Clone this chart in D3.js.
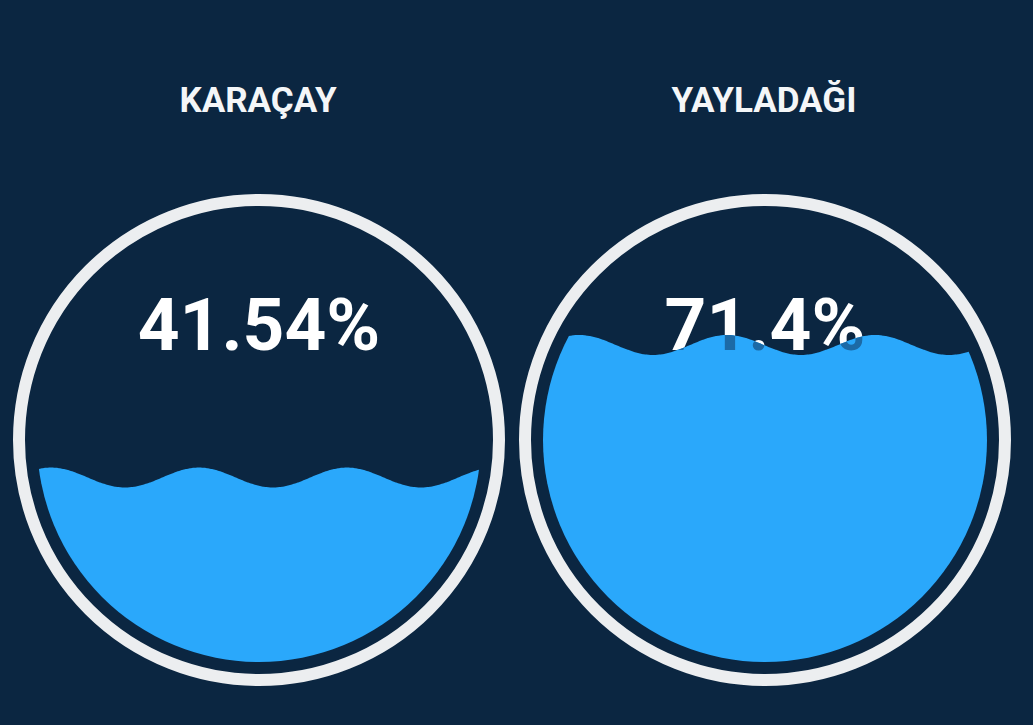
<!DOCTYPE html>
<html lang="tr">
<head>
<meta charset="utf-8">
<title>Doluluk</title>
<script src="https://cdn.jsdelivr.net/npm/d3@7"></script>
<style>
  html, body { margin: 0; padding: 0; background: #0b2641; }
  svg { display: block; }
</style>
</head>
<body>
<script>

// values
var names = ["KARAÇAY", "YAYLADAĞI"];
var values = [41.54, 71.4];
var labels = ["41.54%", "71.4%"];
var wavePeaks = [88, 110]; // where a crest sits, relative to gauge centre (frozen animation frame)

var width = 1033,
    height = 725;

var outerR = 246,
    ringW = 12,
    gap = 12,
    fillR = outerR - ringW - gap,
    cy = 440,
    waveAmp = 10,
    waveCount = 3;

var svg = d3.select("body").append("svg")
    .attr("width", width)
    .attr("height", height);

svg.append("rect")
    .attr("width", width)
    .attr("height", height)
    .attr("fill", "#0b2641");

var x = d3.scalePoint()
    .domain(names)
    .range([259, 765]);

// percentage -> water level
var level = d3.scaleLinear()
    .domain([0, 100])
    .range([cy + fillR, cy - fillR]);

var waveLen = 2 * fillR / waveCount;

names.forEach(function(name, i) {
  var cx = x(name);
  var g = svg.append("g");

  // title
  g.append("text")
      .attr("x", cx - 1)
      .attr("y", 112)
      .attr("text-anchor", "middle")
      .style("font-family", "Roboto, 'Noto Sans', sans-serif")
      .style("font-weight", 700)
      .style("font-size", "35px")
      .attr("fill", "#f4f6f8")
      .text(name);

  // outer ring
  g.append("circle")
      .attr("cx", cx)
      .attr("cy", cy)
      .attr("r", outerR - ringW / 2)
      .attr("fill", "none")
      .attr("stroke", "#eceef0")
      .attr("stroke-width", ringW);

  // text above water
  var txtY = 350;
  g.append("text")
      .attr("x", cx)
      .attr("y", txtY)
      .attr("text-anchor", "middle")
      .style("font-family", "Roboto, 'Noto Sans', sans-serif")
      .style("font-weight", 700)
      .style("font-size", "73px")
      .attr("fill", "#ffffff")
      .text(labels[i]);

  // wave clip
  var waterY = level(values[i]);
  var pts = d3.range(cx - fillR - 5, cx + fillR + 6, 2);
  var area = d3.area()
      .x(function(d) { return d; })
      .y0(cy + fillR + 10)
      .y1(function(d) {
        return waterY - waveAmp * Math.cos(2 * Math.PI * (d - cx - wavePeaks[i]) / waveLen);
      })
      .curve(d3.curveBasis);

  var clipId = "wave" + i;
  svg.append("defs").append("clipPath")
      .attr("id", clipId)
    .append("path")
      .attr("d", area(pts));

  var water = g.append("g").attr("clip-path", "url(#" + clipId + ")");

  water.append("circle")
      .attr("cx", cx)
      .attr("cy", cy)
      .attr("r", fillR)
      .attr("fill", "#2aa8fb");

  water.append("text")
      .attr("x", cx)
      .attr("y", txtY)
      .attr("text-anchor", "middle")
      .style("font-family", "Roboto, 'Noto Sans', sans-serif")
      .style("font-weight", 700)
      .style("font-size", "73px")
      .attr("fill", "#1c6aa6")
      .text(labels[i]);
});

</script>
</body>
</html>
